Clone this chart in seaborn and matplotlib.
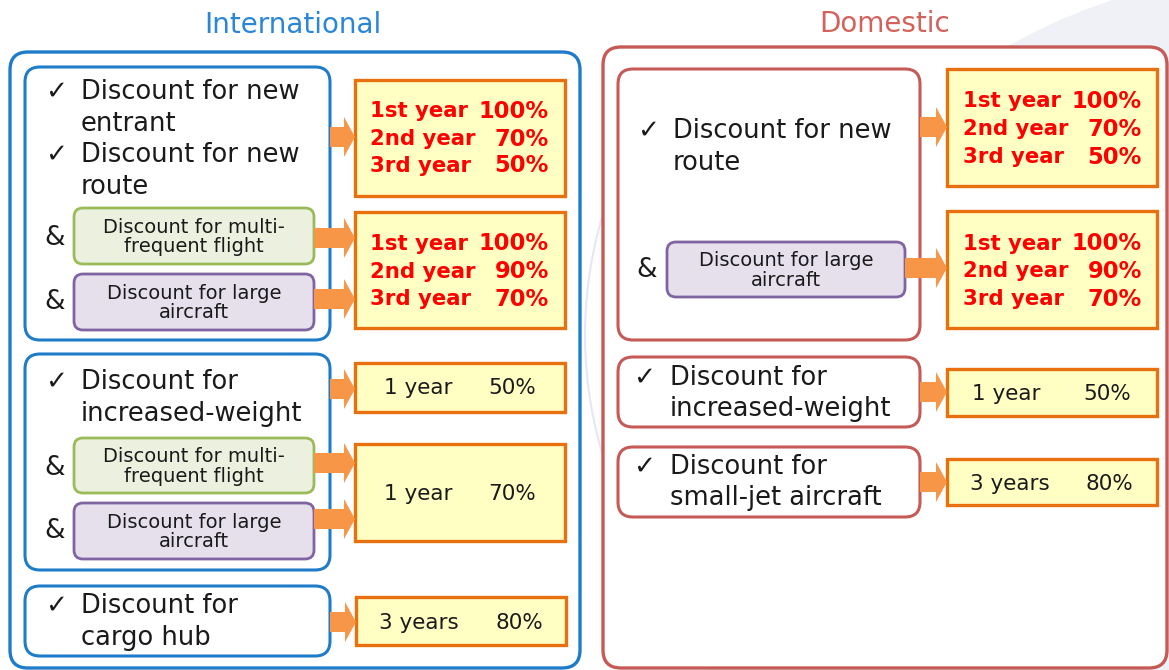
import matplotlib
matplotlib.use("Agg")
import matplotlib.pyplot as plt
import seaborn as sns
from matplotlib.patches import FancyBboxPatch, Polygon, Circle, Rectangle

# ---------------- data (texts) ----------------
section_titles = ["International", "Domestic"]
intl_main = [["Discount for new", "entrant"], ["Discount for new", "route"]]
intl_weight = ["Discount for", "increased-weight"]
intl_cargo = ["Discount for", "cargo hub"]
dom_main = ["Discount for new", "route"]
dom_weight = ["Discount for", "increased-weight"]
dom_smalljet = ["Discount for", "small-jet aircraft"]
sub_multi = "Discount for multi-\nfrequent flight"
sub_large = "Discount for large\naircraft"
rate_years = ["1st year", "2nd year", "3rd year"]
rate_new_vals = ["100%", "70%", "50%"]
rate_combo_vals = ["100%", "90%", "70%"]
weight_rate = ["1 year", "50%"]
weight_combo_rate = ["1 year", "70%"]
cargo_rate = ["3 years", "80%"]
smalljet_rate = ["3 years", "80%"]

# ---------------- style ----------------
sns.set_theme(style="white")
plt.rcParams["font.family"] = ["DejaVu Sans"]

BLUE = "#1f7cc9"
BLUE_T = "#2a86d6"
RED = "#c55a57"
RED_T = "#d3625b"
ORANGE_E = "#e8700f"
ORANGE_A = "#f79646"
YELLOW = "#ffffc4"
GREEN_F, GREEN_E = "#ebf1de", "#9bbb59"
PURP_F, PURP_E = "#e5e0ec", "#8064a2"
TXT = "#1a1a1a"
BOLDRED = "#ff0000"

fig = plt.figure(figsize=(11.69, 6.70), dpi=100)
ax = fig.add_axes([0, 0, 1, 1])
ax.set_xlim(0, 1169)
ax.set_ylim(670, 0)
ax.axis("off")

# faint background decorations
ax.add_patch(Circle((1303, 572), 603, facecolor="#eff1f6", edgecolor="none", zorder=0))
gap_arc = Circle((1000, 335), 415, facecolor="none", edgecolor="#e3e8f2", lw=1.5, zorder=0)
ax.add_patch(gap_arc)
clip_rect = Rectangle((578, 60), 28, 560, transform=ax.transData)
gap_arc.set_clip_path(clip_rect)


def rbox(x0, y0, x1, y1, ec, fc="white", lw=2.2, r=15, z=1):
    ax.add_patch(FancyBboxPatch((x0, y0), x1 - x0, y1 - y0,
                                boxstyle=f"round,pad=0,rounding_size={r}",
                                ec=ec, fc=fc, lw=lw, zorder=z))


def sbox(x0, y0, x1, y1):
    ax.add_patch(FancyBboxPatch((x0, y0), x1 - x0, y1 - y0, boxstyle="square,pad=0",
                                ec=ORANGE_E, fc=YELLOW, lw=2.4, zorder=3))


def arrow(x0, x1, yc, shaft=20, head=40, hl=11):
    xh = x1 - hl
    pts = [(x0, yc - shaft / 2), (xh, yc - shaft / 2), (xh, yc - head / 2), (x1, yc),
           (xh, yc + head / 2), (xh, yc + shaft / 2), (x0, yc + shaft / 2)]
    ax.add_patch(Polygon(pts, closed=True, fc=ORANGE_A, ec="none", zorder=4))


def check_item(xc, xt, ys, lines, fs=18.5):
    ax.text(xc, ys[0], "\u2713", fontsize=19, color=TXT, va="center", ha="left", zorder=5)
    for y, t in zip(ys, lines):
        ax.text(xt, y, t, fontsize=fs, color=TXT, va="center", ha="left", zorder=5)


def sub_box(x0, y0, x1, y1, fc, ec, text):
    rbox(x0, y0, x1, y1, ec=ec, fc=fc, lw=2.0, r=9, z=3)
    ax.text((x0 + x1) / 2, (y0 + y1) / 2 + 1, text, fontsize=14, color=TXT, ha="center",
            va="center", linespacing=1.05, zorder=5)


def amp(x, y):
    ax.text(x, y, "&", fontsize=19, color=TXT, ha="center", va="center", zorder=5)


def rate_block(xl, xr, ys, years, vals):
    for y, a, b in zip(ys, years, vals):
        ax.text(xl, y, a, fontsize=15.3, color=BOLDRED, fontweight="bold", ha="left", va="center", zorder=5)
        ax.text(xr, y, b, fontsize=16.3, color=BOLDRED, fontweight="bold", ha="right", va="center", zorder=5)


def plain_rate(xl, xr, y, pair):
    ax.text(xl, y, pair[0], fontsize=15.5, color=TXT, ha="left", va="center", zorder=5)
    ax.text(xr, y, pair[1], fontsize=15.5, color=TXT, ha="right", va="center", zorder=5)


# ---------------- titles ----------------
ax.text(293, 25, section_titles[0], fontsize=20, color=BLUE_T, ha="center", va="center")
ax.text(885, 24, section_titles[1], fontsize=20, color=RED_T, ha="center", va="center")

# ---------------- International ----------------
rbox(10, 52, 580, 668, ec=BLUE, lw=2.4, r=18)

rbox(25, 67, 330, 340, ec=BLUE, lw=2.2)
check_item(45, 81, [92, 124], intl_main[0])
check_item(45, 81, [155, 187], intl_main[1])
amp(55, 238)
sub_box(74, 208, 314, 264, GREEN_F, GREEN_E, sub_multi)
amp(55, 302)
sub_box(74, 274, 314, 330, PURP_F, PURP_E, sub_large)

sbox(355, 80, 565, 196)
rate_block(370, 549, [111, 139, 166], rate_years, rate_new_vals)
arrow(330, 355, 137)
sbox(355, 212, 565, 328)
rate_block(370, 549, [244, 272, 299], rate_years, rate_combo_vals)
arrow(314, 355, 238)
arrow(314, 355, 299)

rbox(25, 354, 330, 570, ec=BLUE, lw=2.2)
check_item(45, 81, [382, 414], intl_weight)
amp(55, 468)
sub_box(74, 438, 314, 493, GREEN_F, GREEN_E, sub_multi)
amp(55, 531)
sub_box(74, 503, 314, 559, PURP_F, PURP_E, sub_large)
sbox(355, 363, 565, 412)
plain_rate(384, 536, 388, weight_rate)
arrow(330, 355, 389)
sbox(355, 444, 565, 541)
plain_rate(384, 536, 494, weight_combo_rate)
arrow(314, 355, 463)
arrow(314, 355, 519)

rbox(25, 586, 330, 656, ec=BLUE, lw=2.2)
check_item(45, 81, [606, 638], intl_cargo)
sbox(356, 597, 566, 645)
plain_rate(379, 543, 623, cargo_rate)
arrow(330, 356, 622)

# ---------------- Domestic ----------------
rbox(603, 47, 1167, 668, ec=RED, lw=2.4, r=18)

rbox(618, 69, 920, 340, ec=RED, lw=2.2)
check_item(637, 673, [131, 163], dom_main)
amp(647, 270)
sub_box(667, 242, 905, 297, PURP_F, PURP_E, sub_large)
sbox(947, 69, 1157, 186)
rate_block(963, 1142, [101, 129, 157], rate_years, rate_new_vals)
arrow(920, 947, 127)
sbox(947, 211, 1157, 328)
rate_block(963, 1142, [244, 271, 299], rate_years, rate_combo_vals)
arrow(905, 947, 268)

rbox(618, 357, 920, 427, ec=RED, lw=2.2)
check_item(633, 670, [378, 409], dom_weight)
sbox(947, 369, 1157, 416)
plain_rate(972, 1131, 394, weight_rate)
arrow(920, 947, 392)

rbox(618, 447, 920, 517, ec=RED, lw=2.2)
check_item(633, 670, [467, 498], dom_smalljet)
sbox(947, 459, 1157, 505)
plain_rate(970, 1133, 484, smalljet_rate)
arrow(920, 947, 482)

fig.savefig("out.png", dpi=100, facecolor="white")
